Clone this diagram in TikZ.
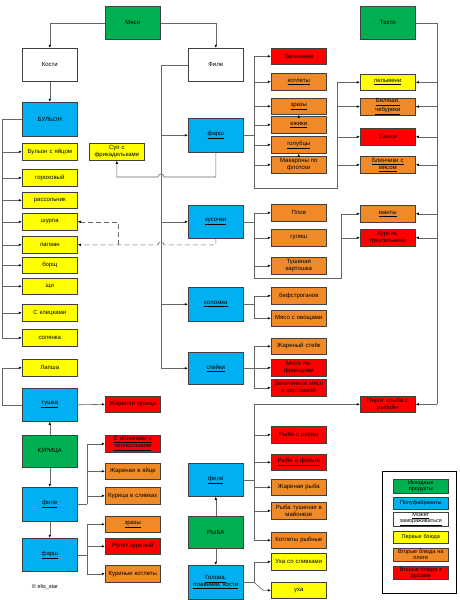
\documentclass[tikz,border=0pt]{standalone}
\usepackage{fontspec}
\setmainfont{Liberation Sans}
\usetikzlibrary{arrows.meta}
\definecolor{cgreen}{HTML}{00B050}
\definecolor{cblue}{HTML}{00B0F0}
\definecolor{cyel}{HTML}{FFFF00}
\definecolor{corg}{HTML}{F08A28}
\definecolor{cred}{HTML}{FF0000}
\tikzset{
  bx/.style={draw=black!75, line width=0.6pt, inner sep=0.5pt, anchor=north west,
    minimum width=55pt, text width=53pt, align=center,
    font=\fontsize{6}{6.9}\selectfont},
  lg/.style={bx, font=\fontsize{5.5}{6.1}\selectfont},
  ln/.style={draw=black!60, line width=0.6pt},
  ar/.style={ln, -{Latex[length=3.2pt,width=2.6pt,color=black]}},
  dsh/.style={dash pattern=on 5pt off 3pt}
}
\newcommand{\bx}[6]{\node[bx,fill=#5,minimum height=#4pt] (#1) at (#2,#3) {#6};}
\newcommand{\lgbx}[6]{\node[lg,fill=#5,minimum height=#4pt] (#1) at (#2,#3) {#6};}
\begin{document}
\begin{tikzpicture}[x=1pt,y=-1pt]
\useasboundingbox (0,0) rectangle (460,600);
% meat top
\bx{myaso}{105}{6}{33}{cgreen}{Мясо}
\bx{kosti}{22}{48}{33}{white}{Кости}
\bx{file}{188}{48}{33}{white}{Филе}
\bx{testo}{360}{6}{33}{cgreen}{Тесто}
\bx{bulon}{22}{102}{34}{cblue}{БУЛЬОН}
% soups
\bx{s1}{22}{143}{17}{cyel}{Бульон с яйцом}
\bx{s2}{22}{169}{17}{cyel}{гороховый}
\bx{s3}{22}{192}{16}{cyel}{рассольник}
\bx{s4}{22}{213}{17}{cyel}{шурпа}
\bx{s5}{22}{236}{17}{cyel}{лагман}
\bx{s6}{22}{257}{16}{cyel}{борщ}
\bx{s7}{22}{278}{16}{cyel}{щи}
\bx{s8}{22}{304}{17}{cyel}{С клецками}
\bx{s9}{22}{329}{17}{cyel}{солянка}
\bx{sup}{89}{143}{17}{cyel}{Суп с\\фрикадельками}
% meat semi-products
\bx{farsh}{188}{118}{34}{cblue}{\underline{фарш}}
\bx{kus}{188}{205}{33}{cblue}{\underline{кусочки}}
\bx{sol}{188}{287}{34}{cblue}{\underline{соломка}}
\bx{steik}{188}{352}{32}{cblue}{\underline{стейки}}
% column 2
\bx{zap}{271}{48}{16}{cred}{Запеканки}
\bx{kot}{271}{73}{17}{corg}{\underline{котлеты}}
\bx{zraz}{271}{98}{16}{corg}{\underline{зразы}}
\bx{ezh}{271}{116}{17}{corg}{\underline{ежики}}
\bx{gol}{271}{136}{17}{corg}{\underline{голубцы}}
\bx{mak}{271}{156}{17}{corg}{Макароны по\\флотски}
\bx{plov}{271}{204}{17}{corg}{Плов}
\bx{gul}{271}{229}{17}{corg}{гуляш}
\bx{tush}{271}{257}{17}{corg}{Тушеная\\картошка}
\bx{bef}{271}{287}{17}{corg}{бефстроганов}
\bx{ovo}{271}{310}{16}{corg}{Мясо с овощами}
\bx{zhst}{271}{338}{16}{corg}{Жареный стейк}
\bx{fran}{271}{359}{17}{cred}{Мясо по-\\французки}
\bx{zapm}{271}{379}{17}{cred}{Запеченное мясо\\с картошкой}
% column 3
\bx{pel}{360}{74}{16}{cyel}{\underline{пельмени}}
\bx{bel}{360}{98}{16}{corg}{\underline{Беляши,}\\\underline{чебуреки}}
\bx{sam}{360}{128}{17}{cred}{Самси}
\bx{blin}{360}{156}{17}{corg}{\underline{Блинчики с}\\\underline{мясом}}
\bx{mant}{360}{205}{17}{corg}{\underline{манты}}
\bx{kur}{360}{229}{17}{cred}{Курник,\\треугольники}
\bx{pirog}{360}{396}{16}{cred}{Пирог «рыба с\\рыбой»}
% fish
\bx{ryba}{188}{516}{32}{cgreen}{РЫБА}
\bx{rfile}{188}{463}{33}{cblue}{\underline{филе}}
\bx{golova}{188}{565}{34}{cblue}{\underline{Голова,}\\\underline{плавники, кости}}
\bx{r1}{271}{426}{17}{cred}{Рыба с рисом}
\bx{r2}{271}{454}{16}{cred}{\underline{Рыба в фольге}}
\bx{r3}{271}{479}{16}{corg}{Жареная рыба}
\bx{r4}{271}{502}{17}{corg}{Рыба тушеная в\\майонезе}
\bx{r5}{271}{532}{16}{corg}{Котлеты рыбные}
\bx{r6}{271}{553}{17}{cyel}{Уха со сливками}
\bx{r7}{271}{582}{16}{cyel}{уха}
% chicken
\bx{lapsha}{22}{359}{17}{cyel}{Лапша}
\bx{tushka}{22}{388}{33}{cblue}{\underline{тушка}}
\bx{zhkur}{105}{396}{16}{cred}{Жареная курица}
\bx{kurica}{22}{435}{32}{cgreen}{КУРИЦА}
\bx{c1}{105}{435}{17}{cred}{\underline{С яблоками и}\\\underline{черносливом}}
\bx{c2}{105}{463}{16}{corg}{Жареная в яйце}
\bx{c3}{105}{487}{17}{corg}{Курица в сливках}
\bx{cfile}{22}{487}{34}{cblue}{\underline{филе}}
\bx{cfarsh}{22}{538}{33}{cblue}{\underline{фарш}}
\bx{c4}{105}{516}{16}{corg}{\underline{зразы}}
\bx{c5}{105}{538}{16}{cred}{Рулет куриный}
\bx{c6}{105}{565}{17}{corg}{Куриные котлеты}
\node[font=\fontsize{5.5}{6}\selectfont, inner sep=0pt] (copy) at (45,587) {© elis\_star};
% legend
\node[draw=black, line width=1pt, minimum width=74pt, minimum height=122pt, inner sep=0pt, anchor=north west] (leg) at (382,471) {};
\lgbx{l1}{393}{479}{14}{cgreen}{Исходные\\продукты}
\lgbx{l2}{393}{497}{12}{cblue}{Полуфабрикаты}
\lgbx{l3}{393}{512}{14}{white}{\underline{Может}\\\underline{замораживаться}}
\lgbx{l4}{393}{531}{12}{cyel}{Первые блюда}
\lgbx{l5}{393}{548}{13}{corg}{Вторые блюда на\\плите}
\lgbx{l6}{393}{566}{13}{cred}{Вторые блюда в\\духовке}
% bus coordinates
\coordinate (bb) at (2,0);
\coordinate (fb) at (161,0);
\coordinate (b2) at (254,0);
\coordinate (tb) at (437,0);
\coordinate (cb) at (87,0);
\coordinate (d1) at (118,0);
\coordinate (j1) at (254,188);
\coordinate (j2) at (337,188);
\coordinate (k1) at (254,278);
\coordinate (k2) at (341,278);
\coordinate (hy) at (0,177);
% top connectors
\draw[ar] (myaso.west) -| (kosti.north);
\draw[ar] (myaso.east) -| (file.north);
\draw[ar] (kosti.south) -- (bulon.north);
% bouillon bus
\draw[ln] (bulon.west) -| (bb |- s9.west);
\foreach \n in {s1,s2,s3,s4,s5,s6,s7,s8,s9} \draw[ar] (bb |- \n.west) -- (\n.west);
% fillet bus
\draw[ln] (file.west) -| (fb |- steik.west);
\foreach \n in {farsh,kus,sol,steik} \draw[ar] (fb |- \n.west) -- (\n.west);
% farsh bus
\draw[ln] (farsh.east) -- (b2 |- farsh.east);
\draw[ln] (b2 |- zap.west) -- (j1) -- (j2) -- (j2 |- pel.west);
\foreach \n in {zap,kot,zraz,ezh,gol,mak} \draw[ar] (b2 |- \n.west) -- (\n.west);
\foreach \n in {pel,bel,sam,blin} \draw[ar] (j2 |- \n.west) -- (\n.west);
\draw[ar] (ezh.north) -- (zraz.south);
\draw[ar] (mak.north) -- (gol.south);
% testo bus
\draw[ln] (testo.east) -| (tb |- pirog.east);
\foreach \n in {pel,bel,sam,blin,mant,kur,pirog} \draw[ar] (tb |- \n.east) -- (\n.east);
% kusochki bus
\draw[ln] (kus.east) -- (b2 |- kus.east);
\draw[ln] (b2 |- plov.west) -- (k1) -- (k2) -- (k2 |- mant.west);
\foreach \n in {plov,gul,tush} \draw[ar] (b2 |- \n.west) -- (\n.west);
\foreach \n in {mant,kur} \draw[ar] (k2 |- \n.west) -- (\n.west);
% solomka
\draw[ln] (sol.east) -- (b2 |- sol.east);
\draw[ln] (b2 |- bef.west) -- (b2 |- ovo.west);
\foreach \n in {bef,ovo} \draw[ar] (b2 |- \n.west) -- (\n.west);
% steiki
\draw[ln] (steik.east) -- (b2 |- steik.east);
\draw[ln] (b2 |- zhst.west) -- (b2 |- zapm.west);
\foreach \n in {zhst,fran,zapm} \draw[ar] (b2 |- \n.west) -- (\n.west);
% farsh -> soup with hop
\draw[ar] (farsh.south) -- (farsh.south |- hy) -- ([xshift=3pt]fb |- hy)
  .. controls +(0,-4) and +(0,-4) .. ([xshift=-3pt]fb |- hy) -- (sup.south |- hy) -- (sup.south);
% dashed kusochki -> lagman, shurpa
\draw[ar,dsh] (kus.south) -- (kus.south |- s5.east) -- ([xshift=3pt]fb |- s5.east)
  .. controls +(0,-4) and +(0,-4) .. ([xshift=-3pt]fb |- s5.east) -- (s5.east);
\draw[ar,dsh] (d1 |- s5.east) -- (d1 |- s4.east) -- (s4.east);
% fish
\draw[ar] (ryba.north) -- (rfile.south);
\draw[ar] (ryba.south) -- (golova.north);
\draw[ln] (rfile.east) -- (b2 |- rfile.east);
\draw[ln] (b2 |- pirog.west) -- (b2 |- r5.west);
\foreach \n in {pirog,r1,r2,r3,r4,r5} \draw[ar] (b2 |- \n.west) -- (\n.west);
\draw[ar] (golova.east) -- (b2 |- golova.east) -- (b2 |- r6.west) -- (r6.west);
\draw[ar] (b2 |- golova.east) -- ([xshift=-8pt]r7.west) -- (r7.west);
% chicken
\draw[ar] (kurica.north) -- (tushka.south);
\draw[ar] (kurica.south) -- (cfile.north);
\draw[ar] (cfile.south) -- (cfarsh.north);
\draw[ar] (tushka.east) -- (zhkur.west);
\draw[ar] (tushka.west) -- (bb |- tushka.west) -- (bb |- lapsha.west) -- (lapsha.west);
\draw[ln] (cfile.east) -- (cb |- cfile.east);
\draw[ln] (cb |- c1.west) -- (cb |- cfile.east);
\foreach \n in {c1,c2,c3} \draw[ar] (cb |- \n.west) -- (\n.west);
\draw[ln] (cfarsh.east) -- (cb |- cfarsh.east);
\draw[ln] (cb |- c4.west) -- (cb |- c6.west);
\foreach \n in {c4,c5,c6} \draw[ar] (cb |- \n.west) -- (\n.west);
\end{tikzpicture}
\end{document}
